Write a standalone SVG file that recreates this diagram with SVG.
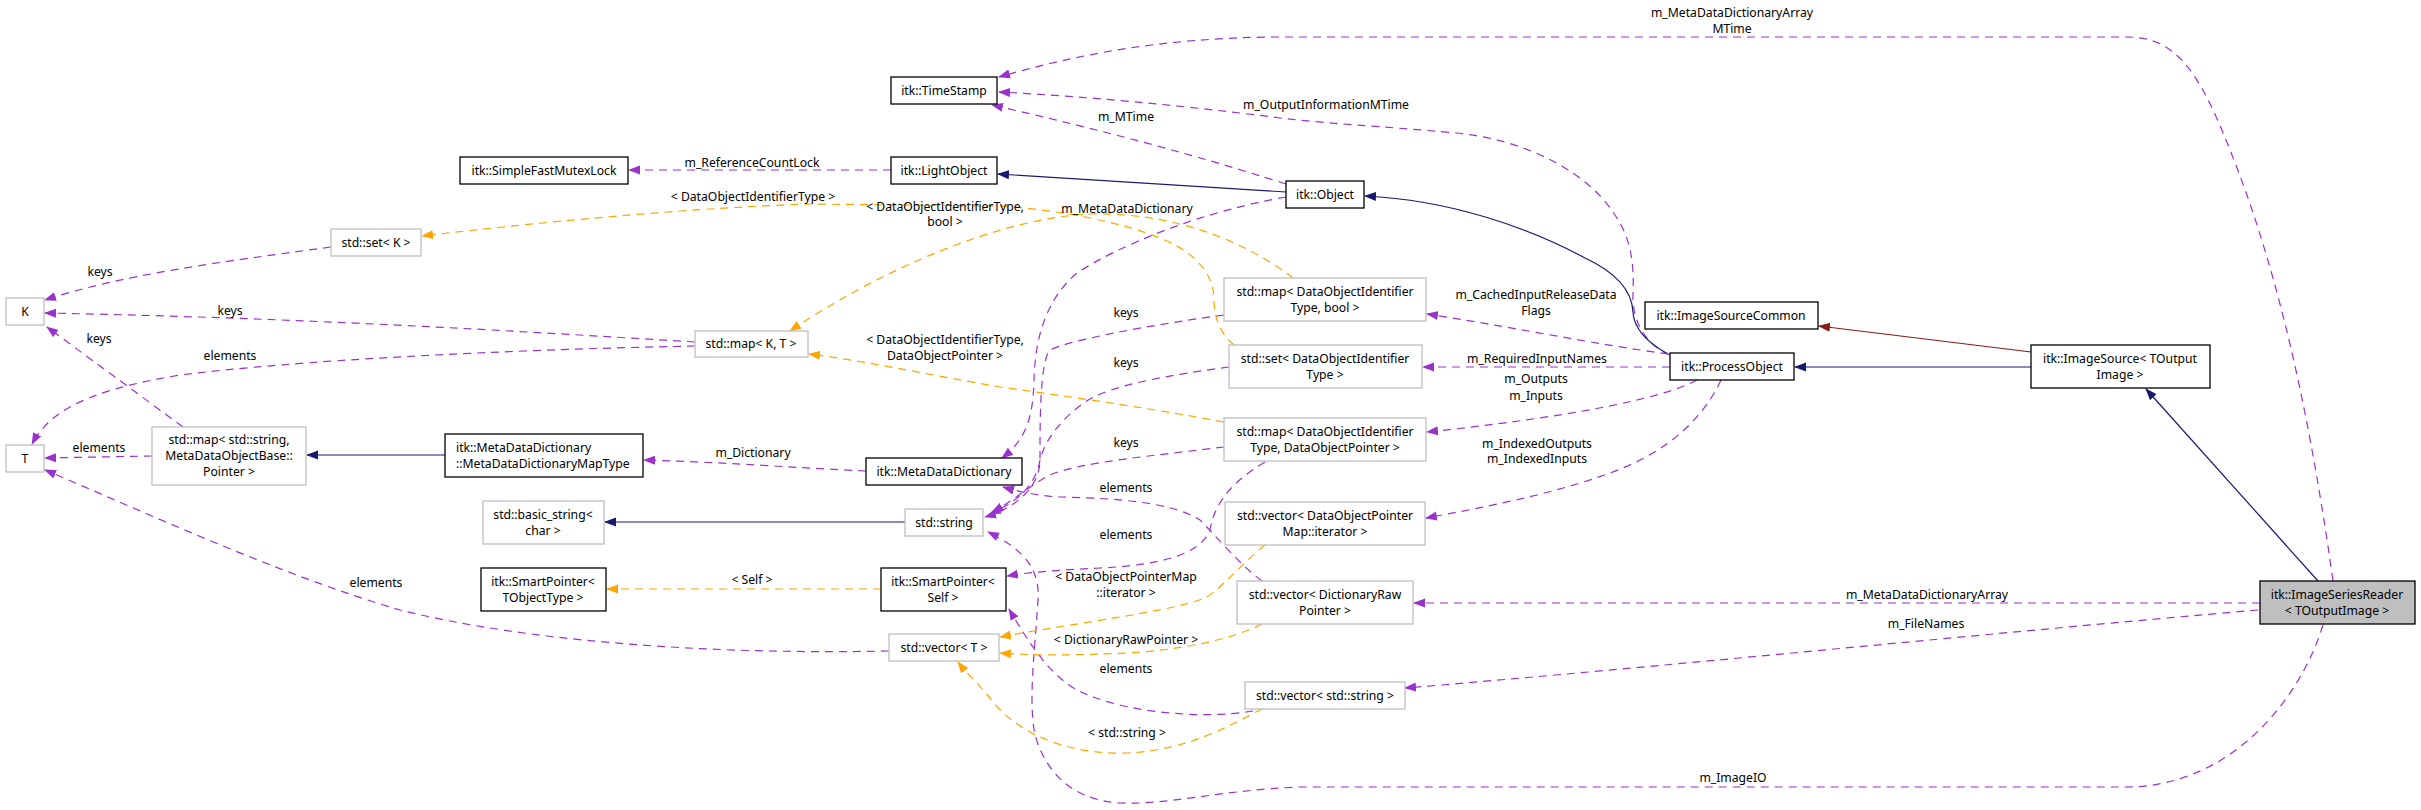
<svg xmlns="http://www.w3.org/2000/svg" width="2421" height="810" viewBox="0 0 2421 810">
<style>
text{font-family:"Noto Sans","Liberation Sans",sans-serif;font-size:12.2px;fill:#000;text-anchor:middle}
.lt{text-anchor:start}
.n{fill:#fff;stroke:#000;stroke-width:1.3}
.g{fill:#fff;stroke:#bfbfbf;stroke-width:1.3}
.root{fill:#bfbfbf;stroke:#000;stroke-width:1.3}
.e{fill:none;stroke:#9a32cd;stroke-width:1.2;stroke-dasharray:8,6;marker-end:url(#ap)}
.o{fill:none;stroke:#ffa500;stroke-width:1.2;stroke-dasharray:8,6;marker-end:url(#ao)}
.b{fill:none;stroke:#191970;stroke-width:1.2;marker-end:url(#ab)}
.r{fill:none;stroke:#8b1a1a;stroke-width:1.2;marker-end:url(#ar)}
</style>
<defs>
<marker id="ap" markerUnits="userSpaceOnUse" markerWidth="12" markerHeight="10" viewBox="0 0 12 10" refX="11" refY="5" orient="auto"><path d="M0,0.5 L12,5 L0,9.5 z" fill="#9a32cd"/></marker>
<marker id="ao" markerUnits="userSpaceOnUse" markerWidth="12" markerHeight="10" viewBox="0 0 12 10" refX="11" refY="5" orient="auto"><path d="M0,0.5 L12,5 L0,9.5 z" fill="#ffa500"/></marker>
<marker id="ab" markerUnits="userSpaceOnUse" markerWidth="12" markerHeight="10" viewBox="0 0 12 10" refX="11" refY="5" orient="auto"><path d="M0,0.5 L12,5 L0,9.5 z" fill="#191970"/></marker>
<marker id="ar" markerUnits="userSpaceOnUse" markerWidth="12" markerHeight="10" viewBox="0 0 12 10" refX="11" refY="5" orient="auto"><path d="M0,0.5 L12,5 L0,9.5 z" fill="#8b1a1a"/></marker>
</defs>
<rect width="2421" height="810" fill="#fff"/>
<g id="connectors">
<path class="e" d="M2333,581 C2305,380 2270,250 2230,150 C2195,60 2170,37 2126,37 L1275,37 C1160,38 1075,55 999,77"/>
<path class="e" d="M1670,355 C1645,345 1632,320 1633,295 C1634,265 1632,240 1615,215 C1590,175 1530,140 1456,133 C1380,126 1330,124 1280,118 C1180,105 1080,96 999,92"/>
<path class="e" d="M1286,184 C1180,150 1080,125 992,105"/>
<path class="e" d="M891,170 L629,170"/>
<path class="b" d="M1286,192 L998,174"/>
<path class="b" d="M1668,354 C1648,343 1634,330 1633,312 C1632,290 1615,272 1585,258 C1530,228 1450,200 1365,196"/>
<path class="b" d="M2031,367 L1795,367"/>
<path class="r" d="M2031,352 L1819,326"/>
<path class="b" d="M2318,581 L2146,389"/>
<path class="e" d="M2260,603 L1414,603"/>
<path class="e" d="M2258,610 C2000,632 1650,668 1405,688"/>
<path class="e" d="M2323,625 C2300,700 2230,787 2126,787 L1300,787 C1220,790 1170,805 1120,803 C1070,800 1045,770 1035,735 C1028,700 1035,650 1038,600 C1040,570 1025,550 988,532"/>
<path class="e" d="M1253,711 C1200,720 1120,712 1077,690 C1050,675 1030,645 1009,609"/>
<path class="e" d="M1262,581 C1240,565 1215,535 1200,520 C1170,500 1100,498 1060,497 C1040,496 1020,492 1003,487"/>
<path class="e" d="M1265,462 C1235,480 1215,500 1210,530 C1200,555 1160,565 1100,568 C1060,570 1030,572 1007,576"/>
<path class="e" d="M1224,447 C1160,455 1080,462 1050,475 C1030,485 1015,500 992,512"/>
<path class="e" d="M1229,367 C1170,375 1110,385 1085,402 C1060,420 1045,440 1040,460 C1035,490 1010,505 990,514"/>
<path class="e" d="M1224,315 C1150,325 1070,340 1050,350 C1040,360 1040,420 1040,460 C1040,490 1010,510 985,517"/>
<path class="e" d="M1286,197 C1200,212 1120,245 1077,273 C1045,300 1035,340 1034,380 C1033,420 1025,440 1002,458"/>
<path class="e" d="M1668,354 C1600,345 1500,325 1427,314"/>
<path class="e" d="M1670,367 L1423,367"/>
<path class="e" d="M1697,380 C1660,400 1560,418 1427,432"/>
<path class="e" d="M1721,380 C1700,425 1660,455 1610,473 C1550,495 1480,508 1426,518"/>
<path class="o" d="M1234,345 C1222,335 1214,320 1214,300 C1214,270 1190,250 1160,238 C1120,222 1060,210 1000,206 L810,204 C740,206 600,215 422,236"/>
<path class="o" d="M1293,278 C1250,245 1180,212 1090,214 C1000,218 880,270 790,331"/>
<path class="o" d="M1224,422 C1160,410 1080,398 1000,387 C930,375 860,360 809,354"/>
<path class="o" d="M881,589 L607,589"/>
<path class="o" d="M1265,545 C1240,565 1220,590 1205,598 C1170,612 1080,622 1000,637"/>
<path class="o" d="M1262,624 C1230,640 1180,650 1127,653 C1080,655 1040,656 1000,653"/>
<path class="o" d="M1262,709 C1230,725 1190,750 1127,753 C1070,755 1020,735 993,702 C980,685 968,675 958,662"/>
<path class="e" d="M889,651 C700,655 520,640 400,610 C280,575 140,510 45,470"/>
<path class="e" d="M152,456 L45,458"/>
<path class="e" d="M183,427 L47,327"/>
<path class="e" d="M695,342 C500,330 300,318 45,313"/>
<path class="e" d="M695,346 C500,350 300,360 180,375 C90,390 50,410 32,444"/>
<path class="e" d="M331,247 C220,262 120,275 45,300"/>
<path class="b" d="M445,455 L307,455"/>
<path class="e" d="M866,471 C800,468 720,462 644,460"/>
<path class="b" d="M905,522 L605,522"/>
</g>
<g id="edge-labels">
<text x="1732" y="17">m_MetaDataDictionaryArray</text>
<text x="1732" y="33">MTime</text>
<text x="1326" y="109">m_OutputInformationMTime</text>
<text x="1126" y="121">m_MTime</text>
<text x="752" y="167">m_ReferenceCountLock</text>
<text x="753" y="201">&lt; DataObjectIdentifierType &gt;</text>
<text x="945" y="211">&lt; DataObjectIdentifierType,</text>
<text x="945" y="226">bool &gt;</text>
<text x="1127" y="213">m_MetaDataDictionary</text>
<text x="100" y="276">keys</text>
<text x="230" y="315">keys</text>
<text x="99" y="343">keys</text>
<text x="230" y="360">elements</text>
<text x="99" y="452">elements</text>
<text x="753" y="457">m_Dictionary</text>
<text x="752" y="584">&lt; Self &gt;</text>
<text x="376" y="587">elements</text>
<text x="1536" y="299">m_CachedInputReleaseData</text>
<text x="1536" y="315">Flags</text>
<text x="1126" y="317">keys</text>
<text x="945" y="344">&lt; DataObjectIdentifierType,</text>
<text x="945" y="360">DataObjectPointer &gt;</text>
<text x="1126" y="367">keys</text>
<text x="1537" y="363">m_RequiredInputNames</text>
<text x="1536" y="383">m_Outputs</text>
<text x="1536" y="400">m_Inputs</text>
<text x="1126" y="447">keys</text>
<text x="1537" y="448">m_IndexedOutputs</text>
<text x="1537" y="463">m_IndexedInputs</text>
<text x="1126" y="492">elements</text>
<text x="1126" y="539">elements</text>
<text x="1126" y="581">&lt; DataObjectPointerMap</text>
<text x="1126" y="597">::iterator &gt;</text>
<text x="1927" y="599">m_MetaDataDictionaryArray</text>
<text x="1926" y="628">m_FileNames</text>
<text x="1126" y="644">&lt; DictionaryRawPointer &gt;</text>
<text x="1126" y="673">elements</text>
<text x="1127" y="737">&lt; std::string &gt;</text>
<text x="1733" y="782">m_ImageIO</text>
</g>
<g id="node-timestamp"><rect class="n" x="891" y="77" width="106" height="27"/><text x="944" y="95">itk::TimeStamp</text></g>
<g id="node-mutex"><rect class="n" x="460" y="157" width="168" height="27"/><text x="544" y="175">itk::SimpleFastMutexLock</text></g>
<g id="node-lightobject"><rect class="n" x="891" y="157" width="106" height="27"/><text x="944" y="175">itk::LightObject</text></g>
<g id="node-object"><rect class="n" x="1286" y="181" width="78" height="27"/><text x="1325" y="199">itk::Object</text></g>
<g id="node-setK"><rect class="g" x="331" y="229" width="90" height="27"/><text x="376" y="247">std::set&lt; K &gt;</text></g>
<g id="node-K"><rect class="g" x="6" y="298" width="38" height="27"/><text x="25" y="316">K</text></g>
<g id="node-mapKT"><rect class="g" x="695" y="331" width="113" height="26"/><text x="751" y="348">std::map&lt; K, T &gt;</text></g>
<g id="node-T"><rect class="g" x="6" y="445" width="38" height="27"/><text x="25" y="463">T</text></g>
<g id="node-mapstr"><rect class="g" x="152" y="427" width="154" height="58"/><text x="229" y="444">std::map&lt; std::string,</text><text x="229" y="460">MetaDataObjectBase::</text><text x="229" y="476">Pointer &gt;</text></g>
<g id="node-mddmaptype"><rect class="n" x="445" y="434" width="198" height="43"/><text class="lt" x="456" y="452">itk::MetaDataDictionary</text><text class="lt" x="456" y="468">::MetaDataDictionaryMapType</text></g>
<g id="node-basicstring"><rect class="g" x="483" y="501" width="121" height="43"/><text x="543" y="519">std::basic_string&lt;</text><text x="543" y="535">char &gt;</text></g>
<g id="node-sptobj"><rect class="n" x="481" y="568" width="125" height="43"/><text x="543" y="586">itk::SmartPointer&lt;</text><text x="543" y="602">TObjectType &gt;</text></g>
<g id="node-mdd"><rect class="n" x="866" y="458" width="156" height="27"/><text x="944" y="476">itk::MetaDataDictionary</text></g>
<g id="node-string"><rect class="g" x="905" y="509" width="78" height="27"/><text x="944" y="527">std::string</text></g>
<g id="node-spself"><rect class="n" x="881" y="568" width="125" height="43"/><text x="943" y="586">itk::SmartPointer&lt;</text><text x="943" y="602">Self &gt;</text></g>
<g id="node-vectorT"><rect class="g" x="889" y="634" width="110" height="27"/><text x="944" y="652">std::vector&lt; T &gt;</text></g>
<g id="node-mapbool"><rect class="g" x="1224" y="278" width="202" height="43"/><text x="1325" y="296">std::map&lt; DataObjectIdentifier</text><text x="1325" y="312">Type, bool &gt;</text></g>
<g id="node-setdoi"><rect class="g" x="1229" y="345" width="193" height="43"/><text x="1325" y="363">std::set&lt; DataObjectIdentifier</text><text x="1325" y="379">Type &gt;</text></g>
<g id="node-mapdop"><rect class="g" x="1224" y="418" width="202" height="43"/><text x="1325" y="436">std::map&lt; DataObjectIdentifier</text><text x="1325" y="452">Type, DataObjectPointer &gt;</text></g>
<g id="node-vecdopm"><rect class="g" x="1225" y="502" width="200" height="43"/><text x="1325" y="520">std::vector&lt; DataObjectPointer</text><text x="1325" y="536">Map::iterator &gt;</text></g>
<g id="node-vecdrp"><rect class="g" x="1237" y="581" width="176" height="43"/><text x="1325" y="599">std::vector&lt; DictionaryRaw</text><text x="1325" y="615">Pointer &gt;</text></g>
<g id="node-vecstring"><rect class="g" x="1245" y="682" width="160" height="27"/><text x="1325" y="700">std::vector&lt; std::string &gt;</text></g>
<g id="node-processobject"><rect class="n" x="1670" y="353" width="124" height="27"/><text x="1732" y="371">itk::ProcessObject</text></g>
<g id="node-imagesourcecommon"><rect class="n" x="1645" y="302" width="173" height="27"/><text x="1731" y="320">itk::ImageSourceCommon</text></g>
<g id="node-imagesource"><rect class="n" x="2031" y="345" width="179" height="43"/><text x="2120" y="363">itk::ImageSource&lt; TOutput</text><text x="2120" y="379">Image &gt;</text></g>
<g id="node-imageseriesreader"><rect class="root" x="2260" y="581" width="155" height="43"/><text x="2337" y="599">itk::ImageSeriesReader</text><text x="2337" y="615">&lt; TOutputImage &gt;</text></g>
</svg>
